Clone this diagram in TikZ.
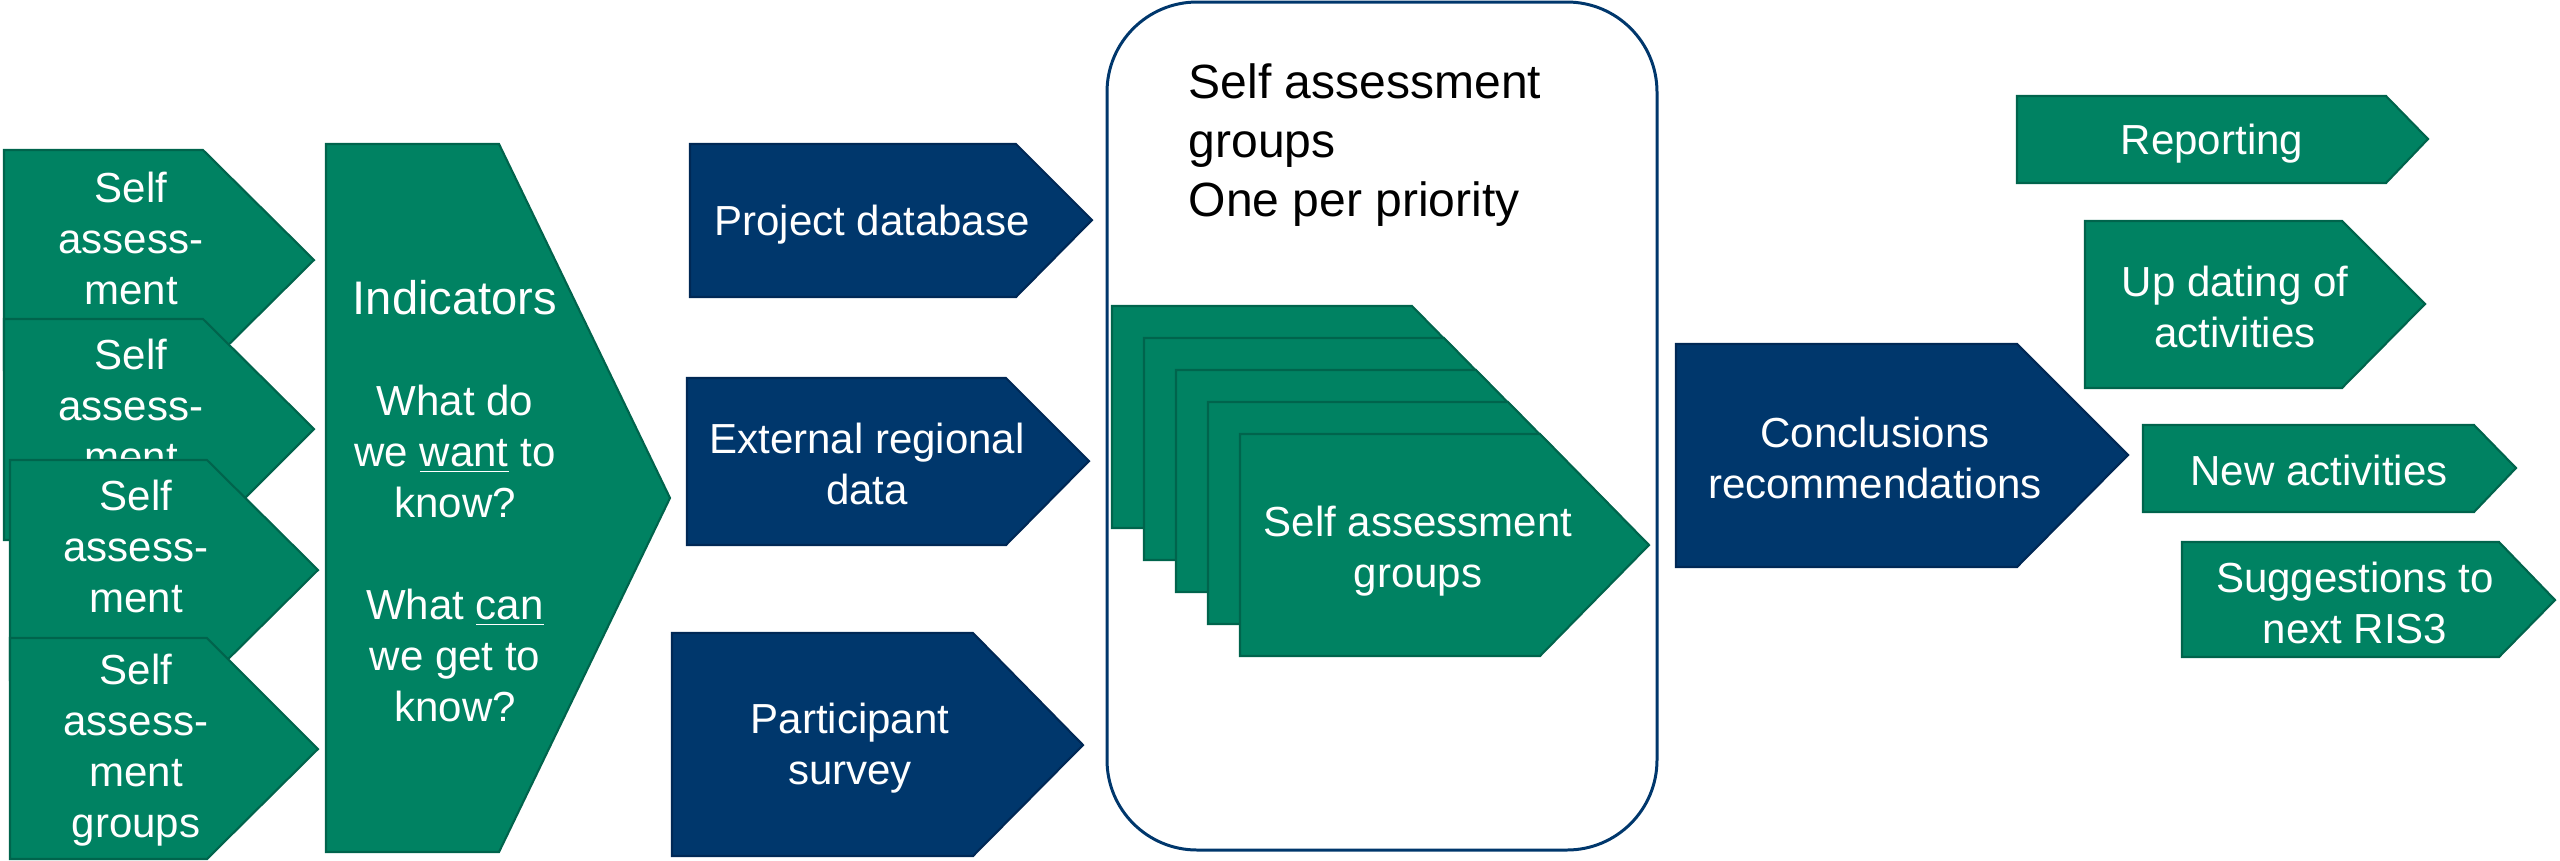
\documentclass[tikz,border=0pt]{standalone}
\usepackage{fontspec}
\setmainfont{Liberation Sans}
\usepackage{tikz}
\usetikzlibrary{calc,positioning}
\definecolor{sagreen}{RGB}{0,130,98}
\definecolor{sagreenline}{RGB}{0,100,76}
\definecolor{sanavy}{RGB}{0,55,108}
\definecolor{sanavyline}{RGB}{0,40,85}
\newcommand{\boxfont}{\fontsize{11.95}{14.5}\selectfont}

\begin{document}
\begin{tikzpicture}[x=0.01cm,y=-0.01cm,
  greenbox/.style={fill=sagreen,draw=sagreenline,line width=0.6pt},
  navybox/.style={fill=sanavy,draw=sanavyline,line width=0.6pt},
  boxtext/.style={text=white,align=center,font=\boxfont,inner sep=0pt}]
\useasboundingbox (0,0) rectangle (2560,860);
% self assessment pile on the left
\draw[greenbox] (4,150) -- (203,150) -- (314,260) -- (203,370) -- (4,370) -- cycle;
\node[boxtext] (sa1) at (131,238) {Self\\assess-\\ment};
\draw[greenbox] (4,319) -- (203,319) -- (314,429) -- (203,540) -- (4,540) -- cycle;
\node[boxtext] (sa2) at (131,405) {Self\\assess-\\ment};
\draw[greenbox] (10,460) -- (207,460) -- (318,570) -- (207,680) -- (10,680) -- cycle;
\node[boxtext] (sa3) at (136,546) {Self\\assess-\\ment};
\draw[greenbox] (10,638) -- (207,638) -- (318,749) -- (207,859) -- (10,859) -- cycle;
\node[boxtext] (sa4) at (136,750) {Self\\assess-\\ment\\groups};
% indicators
\draw[greenbox] (326,144) -- (499,144) -- (670,498) -- (499,852) -- (326,852) -- cycle;
\node[boxtext] (ind) at (455,501) {{\fontsize{13.4}{16}\selectfont Indicators}\\[0.5cm]
  What do\\we \underline{want} to\\know?\\[0.51cm]What \underline{can}\\we get to\\know?};
% data sources
\draw[navybox] (690,144) -- (1016,144) -- (1092,220) -- (1016,297) -- (690,297) -- cycle;
\node[boxtext] (pd) at (872,225) {Project database};
\draw[navybox] (687,378) -- (1006,378) -- (1089,461) -- (1006,545) -- (687,545) -- cycle;
\node[boxtext] (erd) at (867,464) {External regional\\data};
\draw[navybox] (672,633) -- (973,633) -- (1083,745) -- (973,856) -- (672,856) -- cycle;
\node[boxtext] (ps) at (850,748) {Participant\\survey};
% groups frame
\draw[draw=sanavy,line width=0.85pt,rounded corners=0.9cm] (1107,2) rectangle (1657,850);
\node[anchor=west,align=left,inner sep=0pt,font=\fontsize{13.66}{16.8}\selectfont] (frame)
  at (1188,145) {Self assessment\\groups\\One per priority};
\draw[greenbox] (1112,306) -- (1412,306) -- (1521,417) -- (1412,528) -- (1112,528) -- cycle;
\draw[greenbox] (1144,338) -- (1444,338) -- (1553,449) -- (1444,560) -- (1144,560) -- cycle;
\draw[greenbox] (1176,370) -- (1476,370) -- (1585,481) -- (1476,592) -- (1176,592) -- cycle;
\draw[greenbox] (1208,402) -- (1508,402) -- (1617,513) -- (1508,624) -- (1208,624) -- cycle;
\draw[greenbox] (1240,434) -- (1540,434) -- (1649,545) -- (1540,656) -- (1240,656) -- cycle;
\node[boxtext] (sag) at (1418,551) {Self assessment\\groups};
% results
\draw[navybox] (1676,344) -- (2017,344) -- (2128,455) -- (2017,567) -- (1676,567) -- cycle;
\node[boxtext] (conc) at (1875,458) {Conclusions\\recommendations};
\draw[greenbox] (2017,96) -- (2386,96) -- (2428,139) -- (2386,183) -- (2017,183) -- cycle;
\node[boxtext] (rep) at (2212,144) {Reporting};
\draw[greenbox] (2085,221) -- (2342,221) -- (2425,304) -- (2342,388) -- (2085,388) -- cycle;
\node[boxtext] (upd) at (2235,307) {Up dating of\\activities};
\draw[greenbox] (2143,425) -- (2474,425) -- (2516,468) -- (2474,512) -- (2143,512) -- cycle;
\node[boxtext] (new) at (2319,470) {New activities};
\draw[greenbox] (2182,542) -- (2499,542) -- (2555,600) -- (2499,657) -- (2182,657) -- cycle;
\node[boxtext] (sug) at (2355,603) {Suggestions to\\next RIS3};
\end{tikzpicture}
\end{document}
